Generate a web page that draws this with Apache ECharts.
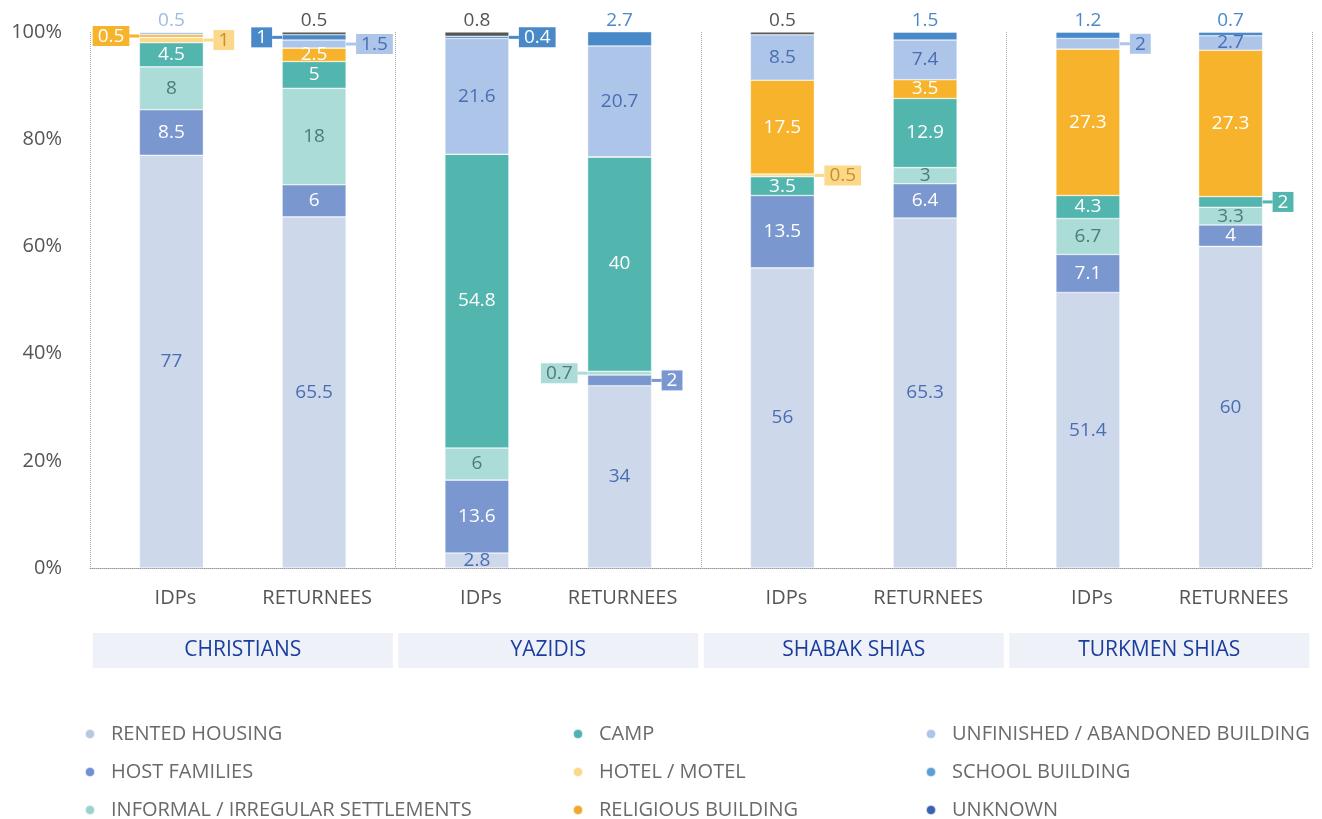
<!DOCTYPE html>
<html>
<head>
<meta charset="utf-8">
<script src="https://cdn.jsdelivr.net/npm/echarts@6/dist/echarts.min.js"></script>
<style>
  html, body { margin: 0; padding: 0; background: #fff; }
  #chart { width: 1322px; height: 819px; }
</style>
</head>
<body>
<div id="chart"></div>
<script>
const categories = ['IDPs', 'RETURNEES', 'IDPs', 'RETURNEES', 'IDPs', 'RETURNEES', 'IDPs', 'RETURNEES']
const groups = ['CHRISTIANS', 'YAZIDIS', 'SHABAK SHIAS', 'TURKMEN SHIAS']
const yTicks = [0, 20, 40, 60, 80, 100]

// values in category order: Christians IDPs, Christians returnees, Yazidis IDPs, ...
const rentedHousing = [77, 65.5, 2.8, 34, 56, 65.3, 51.4, 60]
const hostFamilies = [8.5, 6, 13.6, 2, 13.5, 6.4, 7.1, 4]
const informalSettlements = [8, 18, 6, 0.7, 0, 3, 6.7, 3.3]
const camp = [4.5, 5, 54.8, 40, 3.5, 12.9, 4.3, 2]
const hotelMotel = [1, 0, 0, 0, 0.5, 0, 0, 0]
const religiousBuilding = [0.5, 2.5, 0, 0, 17.5, 3.5, 27.3, 27.3]
const unfinishedBuilding = [0.5, 1.5, 21.6, 20.7, 8.5, 7.4, 2, 2.7]
const schoolBuilding = [0, 1, 0.4, 2.7, 0, 1.5, 1.2, 0.7]
const unknown = [0, 0.5, 0.8, 0, 0.5, 0, 0, 0]

// colour + label placement per series (category index -> 'top' | 'left' | 'right', default inside)
const seriesDefs = [
  { name: 'RENTED HOUSING', data: rentedHousing, color: '#cdd8ea', legend: '#b9c7e0', text: '#4a6db5', place: {} },
  { name: 'HOST FAMILIES', data: hostFamilies, color: '#7b97cf', legend: '#7090d0', text: '#fff', place: { 3: 'right' } },
  { name: 'INFORMAL / IRREGULAR SETTLEMENTS', data: informalSettlements, color: '#acdcd8', legend: '#9fd2cd', text: '#4f7b78', place: { 3: 'left' } },
  { name: 'CAMP', data: camp, color: '#52b5ae', legend: '#4fb3ac', text: '#fff', place: { 7: 'right' } },
  { name: 'HOTEL / MOTEL', data: hotelMotel, color: '#fcd98a', legend: '#fbd98c', text: '#c88f2e', place: { 0: 'right', 4: 'right' } },
  { name: 'RELIGIOUS BUILDING', data: religiousBuilding, color: '#f7b32b', legend: '#f0a830', text: '#fff', place: { 0: 'left' } },
  { name: 'UNFINISHED / ABANDONED BUILDING', data: unfinishedBuilding, color: '#adc5e8', legend: '#adc5e8', text: '#4a6db5', top: '#9fbbe3', place: { 0: 'top', 1: 'right', 6: 'right' } },
  { name: 'SCHOOL BUILDING', data: schoolBuilding, color: '#4a89c8', legend: '#5a9fd8', text: '#fff', top: '#4a89c8', place: { 1: 'left', 2: 'right', 3: 'top', 5: 'top', 6: 'top', 7: 'top' } },
  { name: 'UNKNOWN', data: unknown, color: '#555555', legend: '#3a62b0', text: '#fff', top: '#555555', place: { 1: 'top', 2: 'top', 4: 'top' } }
]

const numFont = '"Open Sans", sans-serif'

const makeItem = (def, v, i) => {
  if (!v) return { value: v, label: { show: false } }
  const mode = def.place[i]
  if (mode === 'top') {
    return { value: v, label: { show: true, position: 'top', distance: 2, color: def.top, formatter: String(v) } }
  }
  if (mode === 'left') {
    return { value: v, label: { show: true, position: 'left', distance: 0, formatter: '{b|' + v + '}{l|}' } }
  }
  if (mode === 'right') {
    return { value: v, label: { show: true, position: 'right', distance: 0, formatter: '{l|}{b|' + v + '}' } }
  }
  return { value: v, label: { show: true, position: 'inside', color: def.text, formatter: String(v) } }
}

// two stacks per group: IDPs (even indexes) and returnees (odd indexes)
const series = []
seriesDefs.forEach((def) => {
  ;['idp', 'ret'].forEach((stack, s) => {
    series.push({
      name: def.name,
      type: 'bar',
      stack: stack,
      barWidth: 64,
      barGap: '123%',
      itemStyle: { color: def.color, borderColor: 'rgba(255,255,255,0.7)', borderWidth: 0.6 },
      label: {
        fontFamily: numFont,
        fontSize: 19,
        rich: {
          l: { width: 10, height: 3, backgroundColor: def.color },
          b: { backgroundColor: def.color, color: def.text, padding: [1, 5, 0, 5], fontSize: 19, lineHeight: 21, fontFamily: numFont }
        }
      },
      data: groups.map((g, j) => makeItem(def, def.data[2 * j + s], 2 * j + s))
    })
  })
})

const legendCol = (names, left) => ({
  orient: 'vertical',
  left: left,
  top: 719,
  height: 140,
  itemWidth: 10,
  itemHeight: 10,
  itemGap: 18,
  icon: 'circle',
  selectedMode: false,
  textStyle: { color: '#6a6a6a', fontSize: 20, fontFamily: numFont, padding: [0, 0, 0, 11] },
  data: names.map((n) => {
    const d = seriesDefs.find((s) => s.name === n)
    return { name: n, itemStyle: { color: d.legend } }
  })
})

const chart = echarts.init(document.getElementById('chart'))
chart.setOption({
  animation: false,
  grid: { left: 90, right: 10, top: 32, bottom: 251 },
  legend: [
    legendCol(seriesDefs.slice(0, 3).map((s) => s.name), 79),
    legendCol(seriesDefs.slice(3, 6).map((s) => s.name), 567),
    legendCol(seriesDefs.slice(6, 9).map((s) => s.name), 920)
  ],
  xAxis: [
    {
      type: 'category',
      data: groups,
      position: 'bottom',
      axisLine: { lineStyle: { color: '#999', type: 'dotted' } },
      axisTick: { show: false },
      splitLine: {
        show: true,
        interval: (idx) => idx < groups.length,
        lineStyle: { color: '#aaa', type: 'dotted' }
      },
      axisLabel: {
        interval: 0,
        color: '#1b3e9e',
        fontSize: 21,
        fontFamily: numFont,
        margin: 65,
        width: 300,
        height: 35,
        lineHeight: 35,
        align: 'center',
        backgroundColor: '#eff1f8'
      }
    },
    {
      type: 'category',
      data: categories,
      position: 'bottom',
      axisLine: { show: false },
      axisTick: { show: false },
      splitLine: { show: false },
      axisLabel: {
        interval: 0,
        hideOverlap: false,
        color: '#555',
        fontSize: 20,
        fontFamily: numFont,
        margin: 20,
        formatter: (v, i) => (i % 2 === 0 ? '{a|' + v + '}' : '{r|' + v + '}'),
        rich: {
          a: { color: '#555', fontSize: 20, fontFamily: numFont, padding: [0, 0, 0, 18] },
          r: { color: '#555', fontSize: 20, fontFamily: numFont, padding: [0, 4, 0, 0] }
        }
      }
    }
  ],
  yAxis: {
    type: 'value',
    min: yTicks[0],
    max: yTicks[yTicks.length - 1],
    interval: 20,
    axisLine: { show: false },
    axisTick: { show: false },
    splitLine: { show: false },
    axisLabel: { color: '#555', fontSize: 20, fontFamily: numFont, margin: 28, formatter: '{value}%' }
  },
  series: series
})
</script>
</body>
</html>
